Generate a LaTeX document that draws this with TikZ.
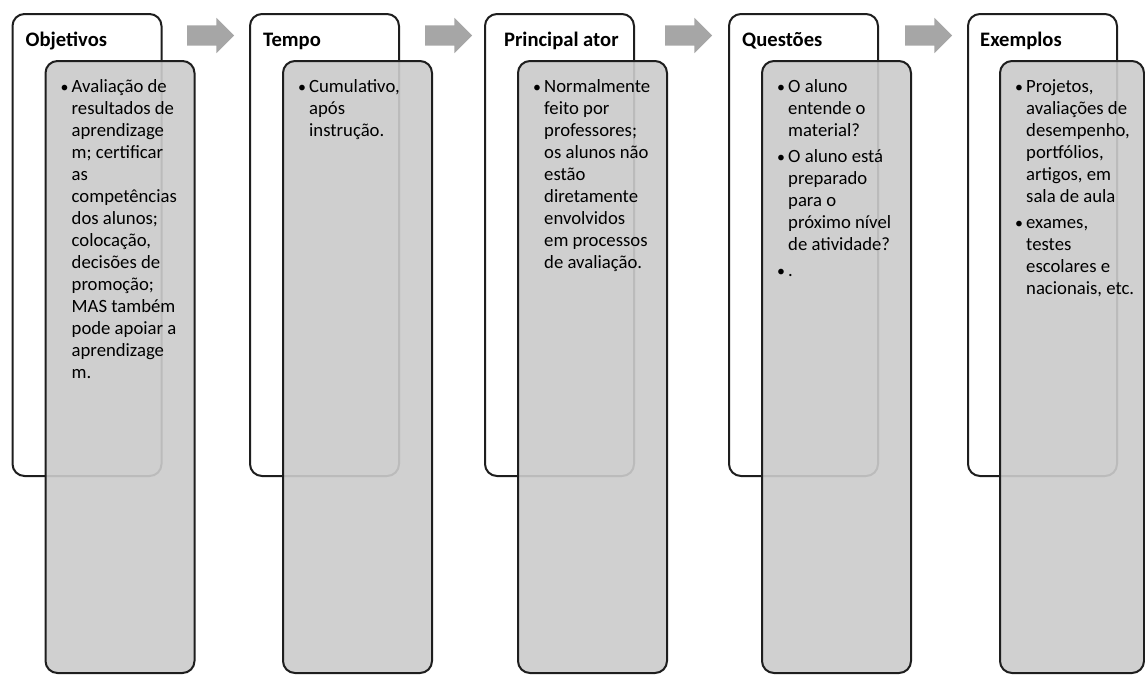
\documentclass[tikz,border=0pt]{standalone}
\usepackage{fontspec}
\setmainfont{Carlito}
\usetikzlibrary{shapes.arrows}
\definecolor{boxgray}{RGB}{203,203,203}
\definecolor{arrowgray}{RGB}{166,166,166}
\definecolor{edgec}{RGB}{30,30,30}
\newcommand\bitem[1]{\par\noindent\hangindent=11pt\hangafter=1\makebox[11pt][l]{\scalebox{0.85}{\textbullet}}#1\par}
\newcommand\itemgap{\vspace{4pt}}
\newcommand\bodytext[1]{\parbox[t]{150pt}{\fontsize{18.7}{22}\selectfont\parskip=0pt #1}}
\begin{document}
\begin{tikzpicture}[x=1pt,y=-1pt,
  outerbox/.style={draw=edgec, line width=2pt, fill=white, rounded corners=12pt, anchor=north west, minimum width=149pt, minimum height=462pt, inner sep=0pt},
  graybox/.style={draw=edgec, line width=2pt, fill=boxgray, fill opacity=0.91, rounded corners=12pt, anchor=north west, minimum width=149pt, minimum height=612pt, inner sep=0pt},
  titletext/.style={anchor=base west, inner sep=0pt, font=\fontsize{20.6}{24}\selectfont\bfseries},
  body/.style={anchor=base west, inner sep=0pt},
  flow/.style={single arrow, fill=arrowgray, draw=none, minimum height=47pt, inner xsep=0pt, inner ysep=10pt, text height=0pt, text depth=0pt, single arrow head extend=7.5pt}
]
\useasboundingbox (0,0) rectangle (1145,675);

% arrows
\node[flow] (a1) at (205.5,35.5) {};
\node[flow] (a2) at (443.5,35.5) {};
\node[flow] (a3) at (683.5,35.5) {};
\node[flow] (a4) at (923.5,35.5) {};

% column 1
\node[outerbox] (o1) at (11.5,13) {};
\node[titletext] (h1) at (25.5,46) {Objetivos};
\node[graybox] (g1) at (44.5,60) {};
\node[body] (t1) at (60.5,92.5) {\bodytext{\bitem{Avaliação de\\resultados de\\aprendizage\\m; certificar\\as\\competências\\dos alunos;\\colocação,\\decisões de\\promoção;\\MAS também\\pode apoiar a\\aprendizage\\m.}}};

% column 2
\node[outerbox] (o2) at (249,13) {};
\node[titletext] (h2) at (263,46) {Tempo};
\node[graybox] (g2) at (282,60) {};
\node[body] (t2) at (298,92.5) {\bodytext{\bitem{Cumulativo,\\após\\instrução.}}};

% column 3
\node[outerbox] (o3) at (484,13) {};
\node[titletext] (h3) at (504,46) {Principal ator};
\node[graybox] (g3) at (517,60) {};
\node[body] (t3) at (533,92.5) {\bodytext{\bitem{Normalmente\\feito por\\professores;\\os alunos não\\estão\\diretamente\\envolvidos\\em processos\\de avaliação.}}};

% column 4
\node[outerbox] (o4) at (728,13) {};
\node[titletext] (h4) at (742,46) {Questões};
\node[graybox] (g4) at (761,60) {};
\node[body] (t4) at (777,92.5) {\bodytext{\bitem{O aluno\\entende o\\material?}\itemgap\bitem{O aluno está\\preparado\\para o\\próximo nível\\de atividade?}\itemgap\bitem{.}}};

% column 5
\node[outerbox] (o5) at (967,13) {};
\node[titletext] (h5) at (980,46) {Exemplos};
\node[graybox, minimum width=144pt] (g5) at (999,60) {};
\node[body] (t5) at (1015,92.5) {\bodytext{\bitem{Projetos,\\avaliações de\\desempenho,\\portfólios,\\artigos, em\\sala de aula}\itemgap\bitem{exames,\\testes\\escolares e\\nacionais, etc.}}};
\end{tikzpicture}
\end{document}
